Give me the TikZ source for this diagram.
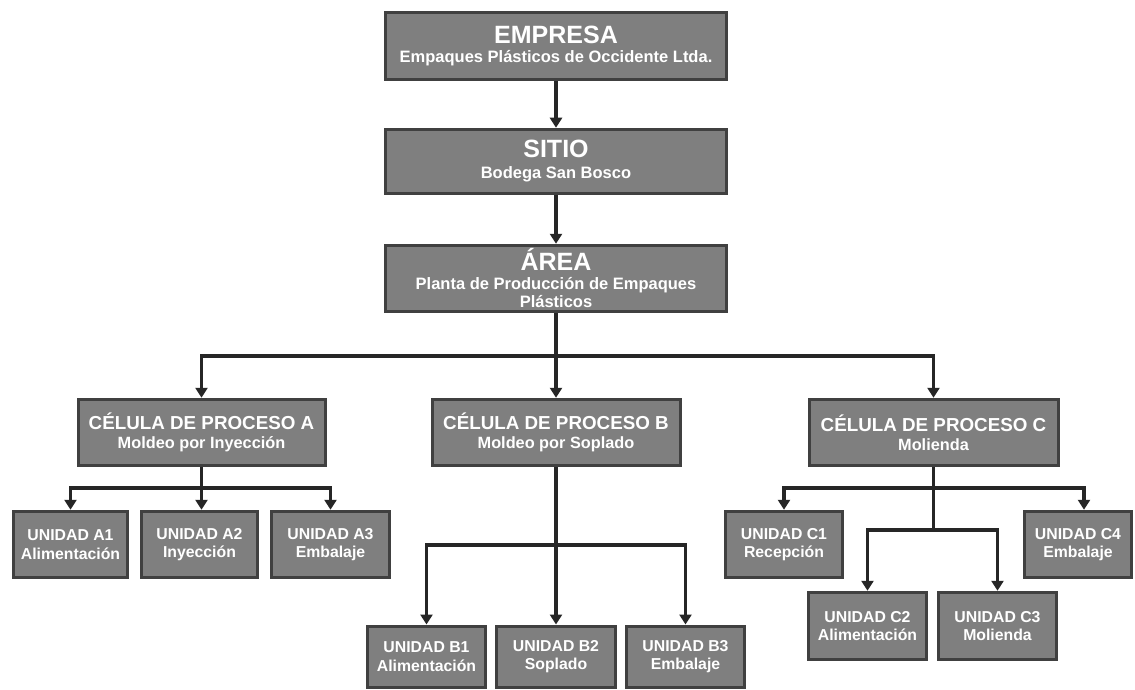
\documentclass[tikz,border=0pt]{standalone}
\usepackage{fontspec}
\setmainfont{Liberation Sans}
\usetikzlibrary{arrows.meta}
\definecolor{boxfill}{HTML}{7F7F7F}
\definecolor{boxedge}{HTML}{404040}
\definecolor{wire}{HTML}{262626}
% text sizes for the three kinds of boxes
\newcommand{\lvlTitle}[1]{{\fontsize{25}{25}\selectfont #1}}
\newcommand{\cellTitle}[1]{{\fontsize{18.8}{19}\selectfont #1}}
\begin{document}
\begin{tikzpicture}[x=1pt,y=-1pt,
  orgbox/.style={draw=boxedge, line width=3pt, fill=boxfill, text=white,
    align=center, inner sep=0pt, font=\bfseries},
  lvlbox/.style={orgbox, minimum width=341pt, font=\bfseries\fontsize{16.5}{18}\selectfont},
  cellbox/.style={orgbox, minimum width=247pt, minimum height=66.5pt,
    font=\bfseries\fontsize{16.3}{19}\selectfont},
  unitbox/.style={orgbox, minimum height=66.5pt, font=\bfseries\fontsize{15.8}{18.5}\selectfont},
  wireline/.style={draw=wire, line width=3.2pt},
  wirearrow/.style={wireline, -{Triangle[width=12pt,length=10pt]}}]

\fill[white] (0,0) rectangle (1135,690);
\useasboundingbox (0,0) rectangle (1135,690);

% top levels
\node[lvlbox, minimum height=67.5pt] (emp) at (556,46)
  {\lvlTitle{EMPRESA}\\[1pt] Empaques Plásticos de Occidente Ltda.};
\node[lvlbox, minimum height=64.5pt] (sit) at (556,161.5)
  {\lvlTitle{SITIO}\\[3pt] Bodega San Bosco};
\node[lvlbox, minimum height=66.5pt] (area) at (556,278.5)
  {\lvlTitle{ÁREA}\\[1pt] Planta de Producción de Empaques\\ Plásticos};

% process cells
\node[cellbox] (cA) at (201.5,432.5) {\cellTitle{CÉLULA DE PROCESO A}\\ Moldeo por Inyección};
\node[cellbox, minimum width=248pt] (cB) at (556,432.5) {\cellTitle{CÉLULA DE PROCESO B}\\ Moldeo por Soplado};
\node[cellbox, minimum width=249pt] (cC) at (933.5,432.5) {\cellTitle{CÉLULA DE PROCESO C}\\ Molienda};

% units of cell A
\node[unitbox, minimum width=114.5pt] (a1) at (70.5,544.5) {UNIDAD A1\\ Alimentación};
\node[unitbox, minimum width=116.5pt] (a2) at (199.5,544.5) {UNIDAD A2\\ Inyección};
\node[unitbox, minimum width=118.5pt] (a3) at (330.5,544.5) {UNIDAD A3\\ Embalaje};

% units of cell B
\node[unitbox, minimum width=118.5pt, minimum height=61pt] (b1) at (426.5,656.5) {UNIDAD B1\\ Alimentación};
\node[unitbox, minimum width=119.5pt, minimum height=61pt] (b2) at (556,656.5) {UNIDAD B2\\ Soplado};
\node[unitbox, minimum width=118.5pt, minimum height=61pt] (b3) at (685.5,656.5) {UNIDAD B3\\ Embalaje};

% units of cell C
\node[unitbox, minimum width=117.5pt] (c1) at (784,544.5) {UNIDAD C1\\ Recepción};
\node[unitbox, minimum width=107.5pt] (c4) at (1078,544.5) {UNIDAD C4\\ Embalaje};
\node[unitbox, minimum width=118.5pt, minimum height=67.5pt] (c2) at (867.5,626) {UNIDAD C2\\ Alimentación};
\node[unitbox, minimum width=118.5pt, minimum height=67.5pt] (c3) at (997.5,626) {UNIDAD C3\\ Molienda};

% connectors
\draw[wirearrow] (emp) -- (sit);
\draw[wirearrow] (sit) -- (area);

\coordinate (j0) at (556,356);
\draw[wireline] (area) -- (j0);
\draw[wirearrow] (j0) -| (cA);
\draw[wirearrow] (j0) -- (cB);
\draw[wirearrow] (j0) -| (cC);

\coordinate (ja) at (201.5,488);
\draw[wireline] (cA) -- (ja);
\draw[wirearrow] (ja) -| (a1);
\draw[wirearrow] (ja) -- (a2.north -| ja);
\draw[wirearrow] (ja) -| (a3);

\coordinate (jb) at (556,545);
\draw[wireline] (cB) -- (jb);
\draw[wirearrow] (jb) -| (b1);
\draw[wirearrow] (jb) -- (b2);
\draw[wirearrow] (jb) -| (b3);

\coordinate (jc) at (933.5,488);
\coordinate (jc2) at (933.5,530);
\draw[wireline] (cC) -- (jc2);
\draw[wirearrow] (jc) -| (c1);
\draw[wirearrow] (jc) -| ([xshift=6pt]c4.north);
\draw[wirearrow] (jc2) -| (c2);
\draw[wirearrow] (jc2) -| (c3);
\end{tikzpicture}
\end{document}
